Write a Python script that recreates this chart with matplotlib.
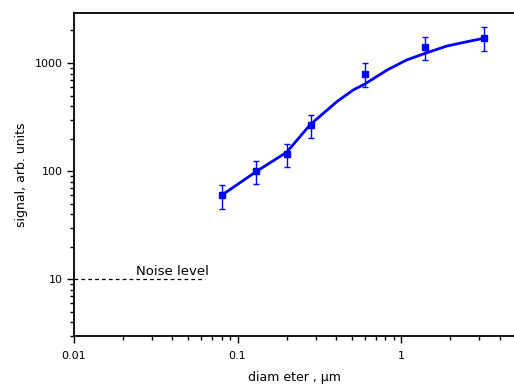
import matplotlib
matplotlib.use("Agg")
import matplotlib.pyplot as plt
from matplotlib.ticker import LogLocator, NullFormatter

plt.rcParams['font.family'] = ['DejaVu Sans']

# measured points
diameter = [0.08, 0.13, 0.20, 0.28, 0.60, 1.40, 3.2]
signal = [60, 100, 144, 268, 800, 1400, 1720]
signal_err = [15, 24, 35, 65, 200, 340, 420]

# fitted curve
fit_d = [0.08, 0.131, 0.20, 0.277, 0.405, 0.51, 0.60, 0.82, 1.08, 1.40, 1.90, 2.52, 3.17]
fit_s = [60, 100, 150, 268, 440, 564, 640, 861, 1067, 1228, 1435, 1572, 1690]

noise_d = [0.01, 0.063]
noise_s = [10, 10]

xticks = [0.01, 0.1, 1]
xticklabels = ["0.01", "0.1", "1"]
yticks = [10, 100, 1000]
yticklabels = ["10", "100", "1000"]

fig = plt.figure(figsize=(5.14, 3.85), dpi=100)
ax = fig.add_axes([74 / 514, 1 - 336 / 385, 1 - 74 / 514, (336 - 13) / 385])

ax.plot(fit_d, fit_s, color="#0000ff", lw=2)
ax.errorbar(diameter, signal, yerr=signal_err, fmt="s", color="#0000ff",
            ms=4.5, elinewidth=1, capsize=2.5, capthick=1)
ax.plot(noise_d, noise_s, color="black", lw=0.9, ls=(0, (3, 2.5)))
ax.text(0.04, 10.9, "Noise level", ha="center", va="baseline", fontsize=9.5)

ax.set_xscale("log")
ax.set_yscale("log")
ax.set_xlim(0.01, 4.9)
ax.set_ylim(3, 2900)

ax.set_xticks(xticks)
ax.set_xticklabels(xticklabels)
ax.set_yticks(yticks)
ax.set_yticklabels(yticklabels)
ax.xaxis.set_minor_locator(LogLocator(base=10, subs=range(2, 10)))
ax.yaxis.set_minor_locator(LogLocator(base=10, subs=range(2, 10)))
ax.xaxis.set_minor_formatter(NullFormatter())
ax.yaxis.set_minor_formatter(NullFormatter())

ax.tick_params(which="major", direction="out", length=5, width=1, labelsize=8)
ax.tick_params(axis="x", which="major", pad=6)
ax.tick_params(axis="y", which="major", pad=3)
ax.tick_params(which="minor", direction="out", length=3, width=1)
ax.tick_params(top=False, right=False, which="both")

ax.spines["right"].set_visible(False)
for s in ["left", "bottom", "top"]:
    ax.spines[s].set_linewidth(1.3)

ax.set_xlabel("diam eter , \u00b5m", fontsize=9, labelpad=7)
ax.set_ylabel("signal, arb. units", fontsize=9, labelpad=5)

fig.savefig("out.png", dpi=100)
